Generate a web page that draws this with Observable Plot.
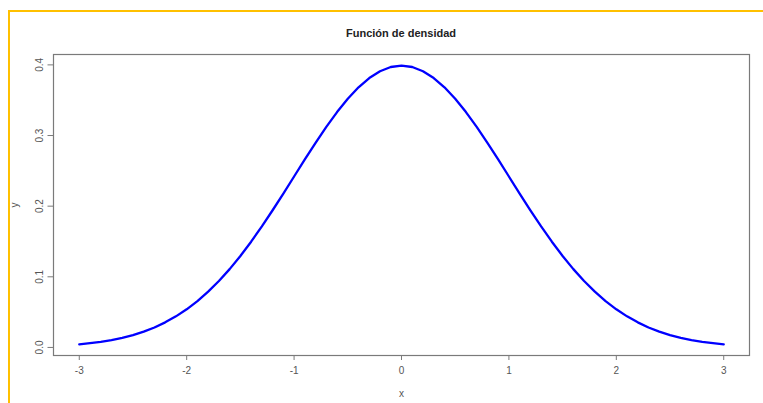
<!DOCTYPE html>
<html>
<head>
<meta charset="utf-8">
<script src="https://cdn.jsdelivr.net/npm/d3@7"></script>
<script src="https://cdn.jsdelivr.net/npm/@observablehq/plot@0.6"></script>
<style>
  html, body { margin: 0; padding: 0; background: #fff; }
  #wrap { position: relative; width: 763px; height: 403px; overflow: hidden; font-family: "Liberation Sans", Arial, sans-serif; }
  #border { position: absolute; left: 8px; top: 10px; right: -10px; bottom: -10px; border-top: 2px solid #FFC000; border-left: 2px solid #FFC000; }
  #title { position: absolute; left: 0; width: 802px; top: 27px; text-align: center; font-weight: bold; font-size: 11px; color: #222; }
  #chart { position: absolute; left: 0; top: 0; }
</style>
</head>
<body>
<div id="wrap">
  <div id="chart"></div>
  <div id="border"></div>
  <div id="title">Función de densidad</div>
</div>
<script>
const title = "Función de densidad";
const xLabel = "x";
const yLabel = "y";
const xs = [-3.0,-2.9,-2.8,-2.7,-2.6,-2.5,-2.4,-2.3,-2.2,-2.1,-2.0,-1.9,-1.8,-1.7,-1.6,-1.5,-1.4,-1.3,-1.2,-1.1,-1.0,-0.9,-0.8,-0.7,-0.6,-0.5,-0.4,-0.3,-0.2,-0.1,0.0,0.1,0.2,0.3,0.4,0.5,0.6,0.7,0.8,0.9,1.0,1.1,1.2,1.3,1.4,1.5,1.6,1.7,1.8,1.9,2.0,2.1,2.2,2.3,2.4,2.5,2.6,2.7,2.8,2.9,3.0];
const ys = [0.0044,0.0060,0.0079,0.0104,0.0136,0.0175,0.0224,0.0283,0.0355,0.0440,0.0540,0.0656,0.0790,0.0940,0.1109,0.1295,0.1497,0.1714,0.1942,0.2179,0.2420,0.2661,0.2897,0.3123,0.3332,0.3521,0.3683,0.3814,0.3910,0.3970,0.3989,0.3970,0.3910,0.3814,0.3683,0.3521,0.3332,0.3123,0.2897,0.2661,0.2420,0.2179,0.1942,0.1714,0.1497,0.1295,0.1109,0.0940,0.0790,0.0656,0.0540,0.0440,0.0355,0.0283,0.0224,0.0175,0.0136,0.0104,0.0079,0.0060,0.0044];
const xTicks = [-3,-2,-1,0,1,2,3];
const xTickLabels = ["-3","-2","-1","0","1","2","3"];
const yTicks = [0.0,0.1,0.2,0.3,0.4];
const yTickLabels = ["0.0","0.1","0.2","0.3","0.4"];

const data = xs.map((x, i) => ({x, y: ys[i]}));
const axisColor = "#7a7a7a";

const plot = Plot.plot({
  width: 763,
  height: 403,
  marginLeft: 53,
  marginRight: 14,
  marginTop: 54,
  marginBottom: 48,
  style: {fontFamily: "'Liberation Sans', Arial, sans-serif", fontSize: "10px", color: "#555", background: "white"},
  x: {domain: [-3.24, 3.24]},
  y: {domain: [-0.0114, 0.4147]},
  marks: [
    Plot.frame({stroke: axisColor, strokeWidth: 1.2}),
    Plot.line(data, {x: "x", y: "y", stroke: "#0000FF", strokeWidth: 2.3, curve: "linear"}),
    Plot.axisX({ticks: xTicks, tickFormat: (d, i) => xTickLabels[i], tickSize: 5, tickPadding: 6, stroke: axisColor, fill: "#555",
      label: xLabel, labelAnchor: "center", labelArrow: "none", labelOffset: 41}),
    Plot.axisY({ticks: yTicks, tickFormat: (d, i) => yTickLabels[i], tickSize: 5.5, tickPadding: 5, tickRotate: -90, stroke: axisColor, fill: "#555",
      label: yLabel, labelAnchor: "center", labelArrow: "none", labelOffset: 43})
  ]
});
document.getElementById("chart").appendChild(plot);
</script>
</body>
</html>
